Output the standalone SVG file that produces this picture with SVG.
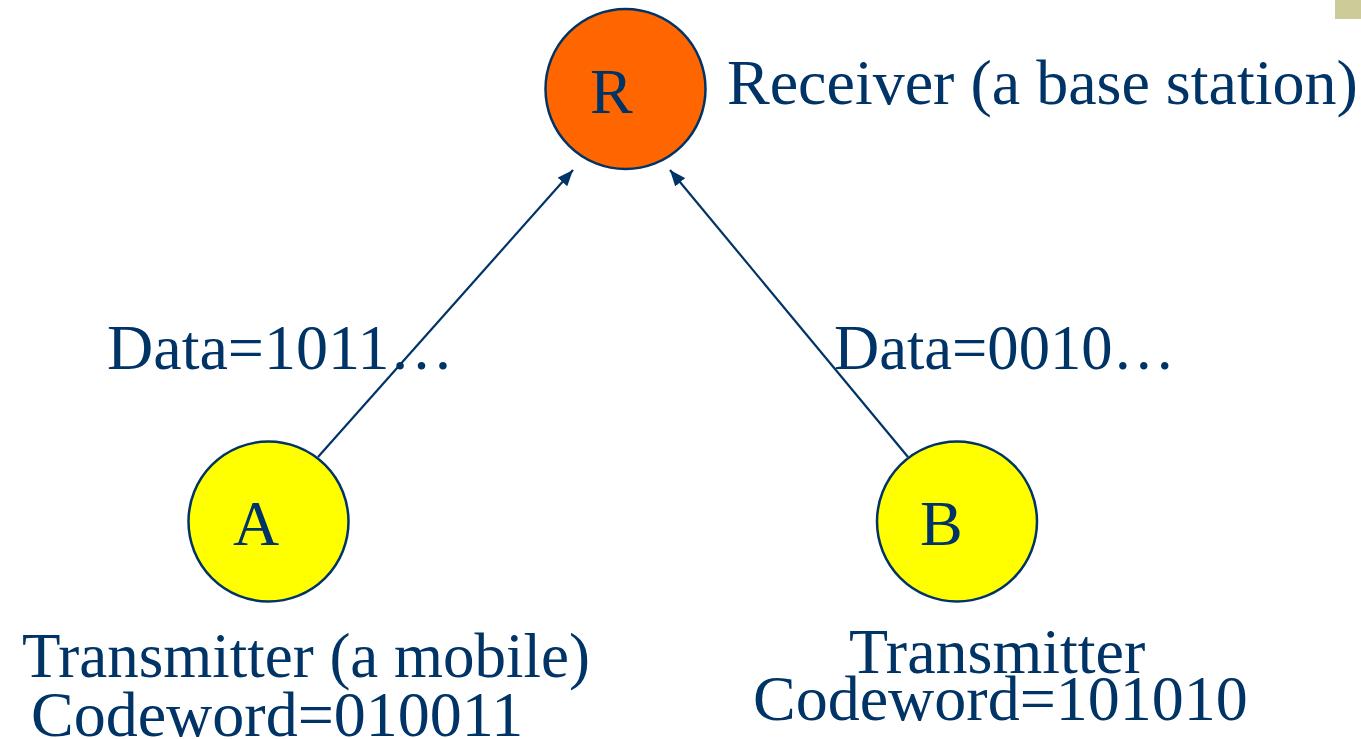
<svg xmlns="http://www.w3.org/2000/svg" width="1361" height="739" viewBox="0 0 1361 739">
  <style>
    text { font-family: "Liberation Serif", "Times New Roman", serif; font-size: 64px; fill: #003366; }
    .node { stroke: #003366; stroke-width: 2.5; }
    .link { stroke: #003366; stroke-width: 2.2; fill: none; }
  </style>
  <defs>
    <marker id="arrow" viewBox="0 0 16 13" refX="16" refY="6.5" markerWidth="16" markerHeight="13" markerUnits="userSpaceOnUse" orient="auto">
      <path d="M0,0 L16,6.5 L0,13 Z" fill="#003366"/>
    </marker>
  </defs>
  <rect width="1361" height="739" fill="#ffffff"/>
  <rect x="1335" y="0" width="26" height="19" fill="#cccc99"/>

  <g id="links">
    <line class="link" x1="318" y1="457" x2="573" y2="170" marker-end="url(#arrow)"/>
    <line class="link" x1="908" y1="457" x2="670" y2="170" marker-end="url(#arrow)"/>
  </g>

  <g id="node-R">
    <circle class="node" cx="625.5" cy="89" r="80" fill="#ff6600"/>
    <text x="590" y="113">R</text>
    <text x="727" y="104">Receiver (a base station)</text>
  </g>

  <g id="node-A">
    <circle class="node" cx="268.5" cy="521.5" r="80" fill="#ffff00"/>
    <text x="233" y="545">A</text>
    <text x="22" y="677" textLength="568" lengthAdjust="spacingAndGlyphs">Transmitter (a mobile)</text>
    <text x="31" y="736">Codeword=010011</text>
    <text x="107" y="369">Data=1011…</text>
  </g>

  <g id="node-B">
    <circle class="node" cx="957" cy="521.5" r="80" fill="#ffff00"/>
    <text x="920" y="545">B</text>
    <text x="849" y="673">Transmitter</text>
    <text x="753" y="720">Codeword=101010</text>
    <text x="834" y="369" textLength="341" lengthAdjust="spacingAndGlyphs">Data=0010…</text>
  </g>
</svg>
